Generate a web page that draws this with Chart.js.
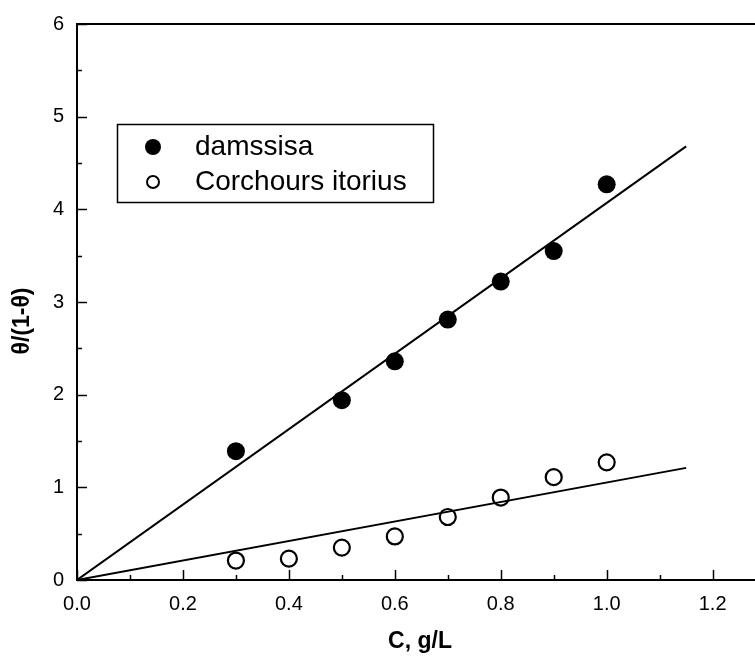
<!DOCTYPE html>
<html>
<head>
<meta charset="utf-8">
<script src="https://cdn.jsdelivr.net/npm/chart.js@4.4.1/dist/chart.umd.min.js"></script>
<style>
  body { margin: 0; background: #fff; overflow: hidden; }
</style>
</head>
<body>
<canvas id="chart" width="755" height="656"></canvas>
<script>
// data
const damssisaX = [0.3, 0.5, 0.6, 0.7, 0.8, 0.9, 1.0];
const damssisaY = [1.39, 1.94, 2.36, 2.81, 3.22, 3.55, 4.27];
const corchoursX = [0.3, 0.4, 0.5, 0.6, 0.7, 0.8, 0.9, 1.0];
const corchoursY = [0.21, 0.23, 0.35, 0.47, 0.68, 0.89, 1.11, 1.27];
const fitX = [0, 1.15];
const damssisaFit = [0, 4.68];
const corchoursFit = [0, 1.21];
const seriesNames = ['damssisa', 'Corchours itorius'];
const xMinorTicks = [0, 0.1, 0.2, 0.3, 0.4, 0.5, 0.6, 0.7, 0.8, 0.9, 1.0, 1.1, 1.2];
const yMinorTicks = [0, 0.5, 1, 1.5, 2, 2.5, 3, 3.5, 4, 4.5, 5, 5.5, 6];
const xTitle = 'C, g/L';
const yTitle = 'θ/(1-θ)';

const toPoints = (xs, ys) => xs.map((x, i) => ({ x: x, y: ys[i] }));

const frame = {
  id: 'frame',
  afterDraw(chart) {
    const c = chart.ctx;
    const a = chart.chartArea;
    const xs = chart.scales.x, ys = chart.scales.y;
    c.save();
    c.strokeStyle = '#000';
    // top line
    c.lineWidth = 2;
    c.beginPath();
    c.moveTo(a.left - 1, a.top);
    c.lineTo(a.right, a.top);
    c.stroke();
    // inward ticks
    c.lineWidth = 1.5;
    xMinorTicks.forEach((v, i) => {
      const px = Math.round(xs.getPixelForValue(v)) + 0.5;
      const len = i % 2 == 0 ? 10 : 5;
      c.beginPath();
      c.moveTo(px, a.bottom);
      c.lineTo(px, a.bottom - len);
      c.stroke();
    });
    yMinorTicks.forEach((v, i) => {
      const py = Math.round(ys.getPixelForValue(v)) + 0.5;
      const len = i % 2 == 0 ? 10 : 5;
      c.beginPath();
      c.moveTo(a.left, py);
      c.lineTo(a.left + len, py);
      c.stroke();
    });
    // axis titles
    c.fillStyle = '#000';
    c.font = 'bold 23px "Liberation Sans", Arial, sans-serif';
    c.textAlign = 'center';
    c.textBaseline = 'middle';
    c.fillText(xTitle, 420, 642);
    c.translate(23, 321);
    c.rotate(-Math.PI / 2);
    c.fillText(yTitle, 0, 0);
    c.restore();

    // legend box
    c.save();
    c.strokeStyle = '#000';
    c.lineWidth = 1.5;
    c.strokeRect(117.5, 124.5, 316, 78);
    c.fillStyle = '#000';
    c.beginPath();
    c.arc(153, 147, 8, 0, Math.PI * 2);
    c.fill();
    c.lineWidth = 2;
    c.beginPath();
    c.arc(153, 182, 6, 0, Math.PI * 2);
    c.stroke();
    c.font = '28px "Liberation Sans", Arial, sans-serif';
    c.textAlign = 'left';
    c.textBaseline = 'middle';
    c.fillText(seriesNames[0], 195, 147);
    c.fillText(seriesNames[1], 195, 182);
    c.restore();
  }
};

const data = {
  datasets: [
    {
      label: seriesNames[0] + ' fit',
      data: toPoints(fitX, damssisaFit),
      showLine: true,
      borderColor: '#000',
      borderWidth: 2,
      pointRadius: 0
    },
    {
      label: seriesNames[1] + ' fit',
      data: toPoints(fitX, corchoursFit),
      showLine: true,
      borderColor: '#000',
      borderWidth: 2,
      pointRadius: 0
    },
    {
      label: seriesNames[0],
      data: toPoints(damssisaX, damssisaY),
      backgroundColor: '#000',
      borderColor: '#000',
      pointRadius: 9,
      borderWidth: 0
    },
    {
      label: seriesNames[1],
      data: toPoints(corchoursX, corchoursY),
      backgroundColor: 'rgba(0,0,0,0)',
      borderColor: '#000',
      pointRadius: 8,
      borderWidth: 2.2
    }
  ]
};

const config = {
  type: 'scatter',
  data: data,
  options: {
    responsive: false,
    animation: false,
    layout: { autoPadding: false, padding: { top: 24, right: 0, left: 0, bottom: 0 } },
    plugins: {
      legend: { display: false },
      tooltip: { enabled: false }
    },
    scales: {
      x: {
        type: 'linear',
        min: 0,
        max: 1.28,
        afterFit: s => { s.height = 76; s.paddingLeft = 0; s.paddingRight = 0; },
        grid: { display: false },
        border: { display: true, color: '#000', width: 2 },
        ticks: {
          stepSize: 0.2,
          includeBounds: false,
          autoSkip: false,
          maxRotation: 0,
          padding: 4,
          color: '#000',
          font: { family: '"Liberation Sans", Arial, sans-serif', size: 20 },
          callback: v => v.toFixed(1)
        }
      },
      y: {
        type: 'linear',
        min: 0,
        max: 6,
        afterFit: s => { s.width = 77; s.paddingTop = 0; s.paddingBottom = 0; },
        grid: { display: false },
        border: { display: true, color: '#000', width: 2 },
        ticks: {
          stepSize: 1,
          padding: 5,
          color: '#000',
          font: { family: '"Liberation Sans", Arial, sans-serif', size: 20 }
        }
      }
    }
  },
  plugins: [frame]
};

const myChart = new Chart(document.getElementById('chart'), config);
</script>
</body>
</html>
